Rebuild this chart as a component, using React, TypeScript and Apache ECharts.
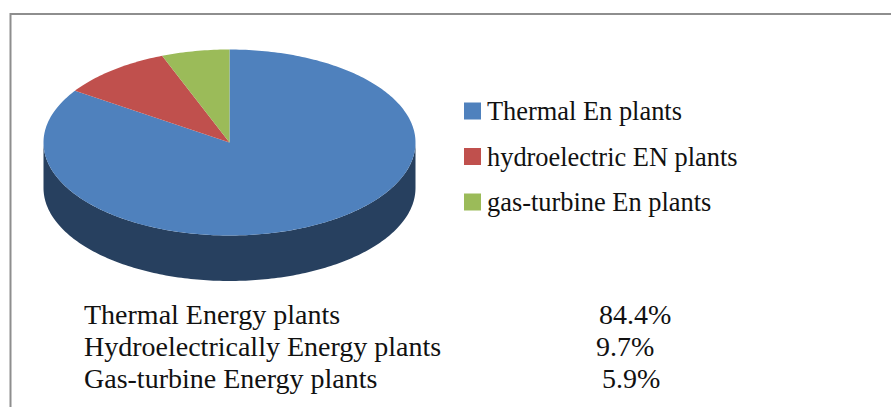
import React, { useEffect, useRef } from "react";
import * as echarts from "echarts";

const legendNames = ["Thermal En plants", "hydroelectric EN plants", "gas-turbine En plants"];
const sliceValues = [84.4, 9.7, 5.9];
const sliceColors = ["#4f81bd", "#c0504d", "#9bbb59"];
const sideColors = ["#27405f", "#7d3432", "#657a3a"];
const tableNames = ["Thermal Energy plants", "Hydroelectrically Energy plants", "Gas-turbine Energy plants"];
const tableValues = ["84.4%", "9.7%", "5.9%"];

const CX = 229.5, CY = 142.5, RX = 186, RY = 93, DEPTH = 45.5;
const FONT = '"Liberation Serif", "Times New Roman", serif';
const total = sliceValues.reduce((a, b) => a + b, 0);

const pt = (deg: number, dy = 0): number[] => {
  const r = (deg * Math.PI) / 180;
  return [CX + RX * Math.sin(r), CY - RY * Math.cos(r) + dy];
};
const arcPts = (a: number, b: number, dy = 0): number[][] => {
  const out: number[][] = [];
  const n = Math.max(2, Math.ceil(Math.abs(b - a)));
  for (let i = 0; i <= n; i++) out.push(pt(a + ((b - a) * i) / n, dy));
  return out;
};

const sliceSeries = (idx: number) => {
  const startPct = sliceValues.slice(0, idx).reduce((a, b) => a + b, 0);
  return {
    type: "custom",
    name: legendNames[idx],
    coordinateSystem: "none",
    itemStyle: { color: sliceColors[idx] },
    data: [sliceValues[idx]],
    renderItem: (_p: any, api: any) => {
      const a0 = (startPct / total) * 360;
      const a1 = ((startPct + api.value(0)) / total) * 360;
      const children: any[] = [];
      const s0 = Math.max(a0, 90), s1 = Math.min(a1, 270);
      if (s1 > s0) {
        children.push({
          type: "polygon",
          shape: { points: [...arcPts(s0, s1), ...arcPts(s1, s0, DEPTH)] },
          style: { fill: sideColors[idx] },
        });
      }
      children.push({
        type: "polygon",
        shape: { points: [[CX, CY], ...arcPts(a0, a1)] },
        style: { fill: sliceColors[idx] },
      });
      return { type: "group", children };
    },
  };
};

const tableText = (text: string, x: number, y: number) => ({
  type: "text",
  x,
  y,
  style: { text, fill: "#111", font: `28px ${FONT}` },
});

export default function App() {
  const ref = useRef<HTMLDivElement>(null);
  useEffect(() => {
    const chart = echarts.init(ref.current!, undefined, { renderer: "svg" });
    chart.setOption({
      animation: false,
      backgroundColor: "#fff",
      legend: {
        left: 464,
        top: 98,
        orient: "vertical",
        padding: 0,
        itemWidth: 17,
        itemHeight: 17,
        itemGap: 19.5,
        icon: "rect",
        data: legendNames,
        textStyle: { fontFamily: FONT, fontSize: 26.4, color: "#111", padding: [2, 0, 0, 1] },
      },
      series: sliceValues.map((_, i) => sliceSeries(i)),
      graphic: [
        { type: "line", shape: { x1: 10.5, y1: 13, x2: 10.5, y2: 407 }, style: { stroke: "#8e8e8e", lineWidth: 2 } },
        { type: "line", shape: { x1: 10, y1: 14, x2: 891, y2: 14 }, style: { stroke: "#8e8e8e", lineWidth: 2 } },
        ...tableNames.map((t, i) => tableText(t, 84, 300 + i * 32)),
        tableText(tableValues[0], 599, 300),
        tableText(tableValues[1], 596, 332),
        tableText(tableValues[2], 602, 364),
      ],
    });
    return () => chart.dispose();
  }, []);
  return <div ref={ref} style={{ position: "absolute", left: 0, top: 0, width: 891, height: 407 }} />;
}
